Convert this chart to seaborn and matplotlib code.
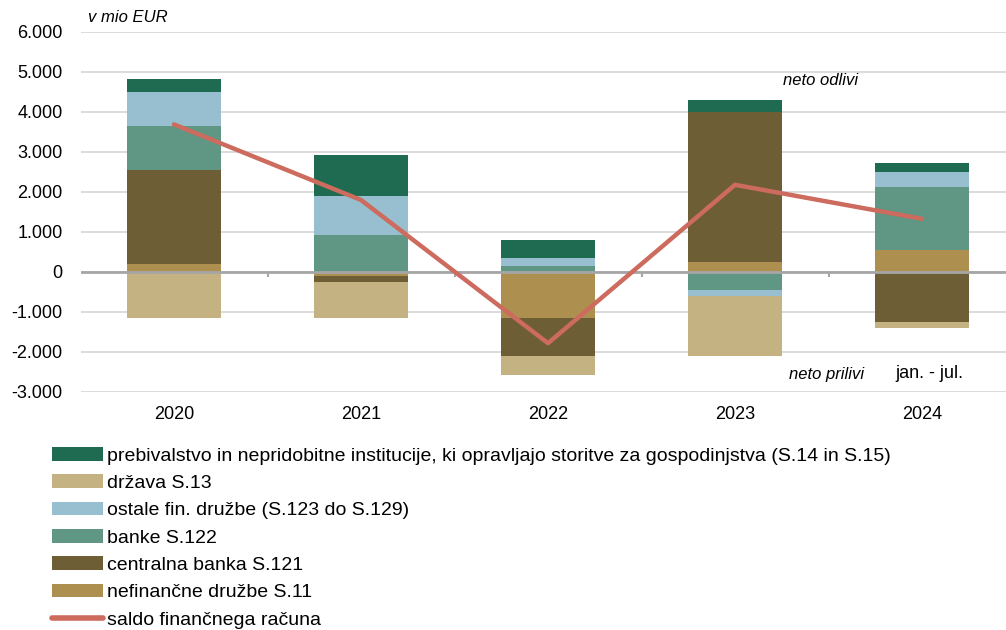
import numpy as np
import seaborn as sns
import pandas as pd
import matplotlib.pyplot as plt
from matplotlib.ticker import FuncFormatter
from matplotlib.patches import Patch
from matplotlib.lines import Line2D

# Data (v mio EUR)
years = ["2020", "2021", "2022", "2023", "2024"]
nefin = [200, -100, -1140, 240, 550]
centralna = [2360, -140, -960, 3770, -1260]
banke = [1100, 930, 150, -450, 1570]
ostale = [850, 970, 210, -160, 370]
drzava = [-1140, -900, -480, -1500, -130]
prebivalstvo = [310, 1020, 430, 290, 230]
saldo = [3690, 1800, -1780, 2180, 1330]

# Series in stacking order (first = nearest zero)
series = [
    ("nefinančne družbe S.11", nefin, "#ad904f"),
    ("centralna banka S.121", centralna, "#6e5e35"),
    ("banke S.122", banke, "#5f9684"),
    ("ostale fin. družbe (S.123 do S.129)", ostale, "#98bfcf"),
    ("država S.13", drzava, "#c4b283"),
    ("prebivalstvo in nepridobitne institucije, ki opravljajo storitve za gospodinjstva (S.14 in S.15)",
     prebivalstvo, "#1f6b52"),
]
legend_order = [5, 4, 3, 2, 1, 0]
saldo_label = "saldo finančnega računa"
saldo_color = "#cc6b5e"

sns.set_style("white")
plt.rcParams['font.family'] = ['Liberation Sans', 'DejaVu Sans']
plt.rcParams['text.color'] = 'black'
plt.rcParams['xtick.color'] = 'black'
plt.rcParams['ytick.color'] = 'black'

fig = plt.figure(figsize=(10.06, 6.30), dpi=100)
ax = fig.add_axes([80.5 / 1006, 1 - 392 / 630, 935 / 1006, 360 / 630])

x = np.arange(len(years))
pos_bottom = np.zeros(len(years))
neg_bottom = np.zeros(len(years))
for name, vals, color in series:
    v = np.array(vals, dtype=float)
    bottom = np.where(v >= 0, pos_bottom, neg_bottom)
    ax.bar(x, v, width=0.5, bottom=bottom, color=color, linewidth=0, zorder=2)
    pos_bottom += np.where(v >= 0, v, 0)
    neg_bottom += np.where(v < 0, v, 0)

df_saldo = pd.DataFrame({"x": x, "saldo": saldo})
sns.lineplot(data=df_saldo, x="x", y="saldo", color=saldo_color, linewidth=3.2,
             ax=ax, zorder=4, solid_capstyle="round")

# axes styling
ax.set_xlim(-0.5, 4.5)
ax.set_ylim(-3000, 6000)
ax.set_yticks(np.arange(-3000, 6001, 1000))
ax.yaxis.set_major_formatter(FuncFormatter(lambda v, p: f"{int(v):,}".replace(",", ".")))
ax.set_xticks(x)
ax.set_xticklabels(years)
ax.tick_params(axis="both", length=0, labelsize=13)
ax.tick_params(axis="x", pad=10)
ax.tick_params(axis="y", pad=13)
ax.grid(axis="y", color="#d9d9d9", linewidth=1.3, zorder=0)
ax.set_axisbelow(True)
for s in ax.spines.values():
    s.set_visible(False)
ax.axhline(0, color="#a6a6a6", linewidth=2, zorder=3)
ax.vlines([0.5, 1.5, 2.5, 3.5], -130, 0, color="#a6a6a6", linewidth=1.5, zorder=3)
ax.set_xlabel("")
ax.set_ylabel("")

# annotations
ax.text(-0.46, 6350, "v mio EUR", fontsize=12, style="italic", va="center", clip_on=False)
ax.text(3.255, 4780, "neto odlivi", fontsize=12, style="italic", va="center")
ax.text(3.29, -2575, "neto prilivi", fontsize=12, style="italic", va="center")
ax.text(4.04, -2530, "jan. - jul.", fontsize=13, ha="center", va="center")

# legend
handles = [Patch(facecolor=series[i][2], edgecolor="none", label=series[i][0]) for i in legend_order]
handles.append(Line2D([0], [0], color=saldo_color, linewidth=4, label=saldo_label))
fig.legend(handles=handles, loc="upper left", bbox_to_anchor=(52 / 1006, 1 - 447 / 630),
           frameon=False, fontsize=14, handlelength=2.6, handleheight=0.7,
           handletextpad=0.25, labelspacing=0.5, borderaxespad=0, borderpad=0)

plt.savefig("out.png", dpi=100)
plt.close()
